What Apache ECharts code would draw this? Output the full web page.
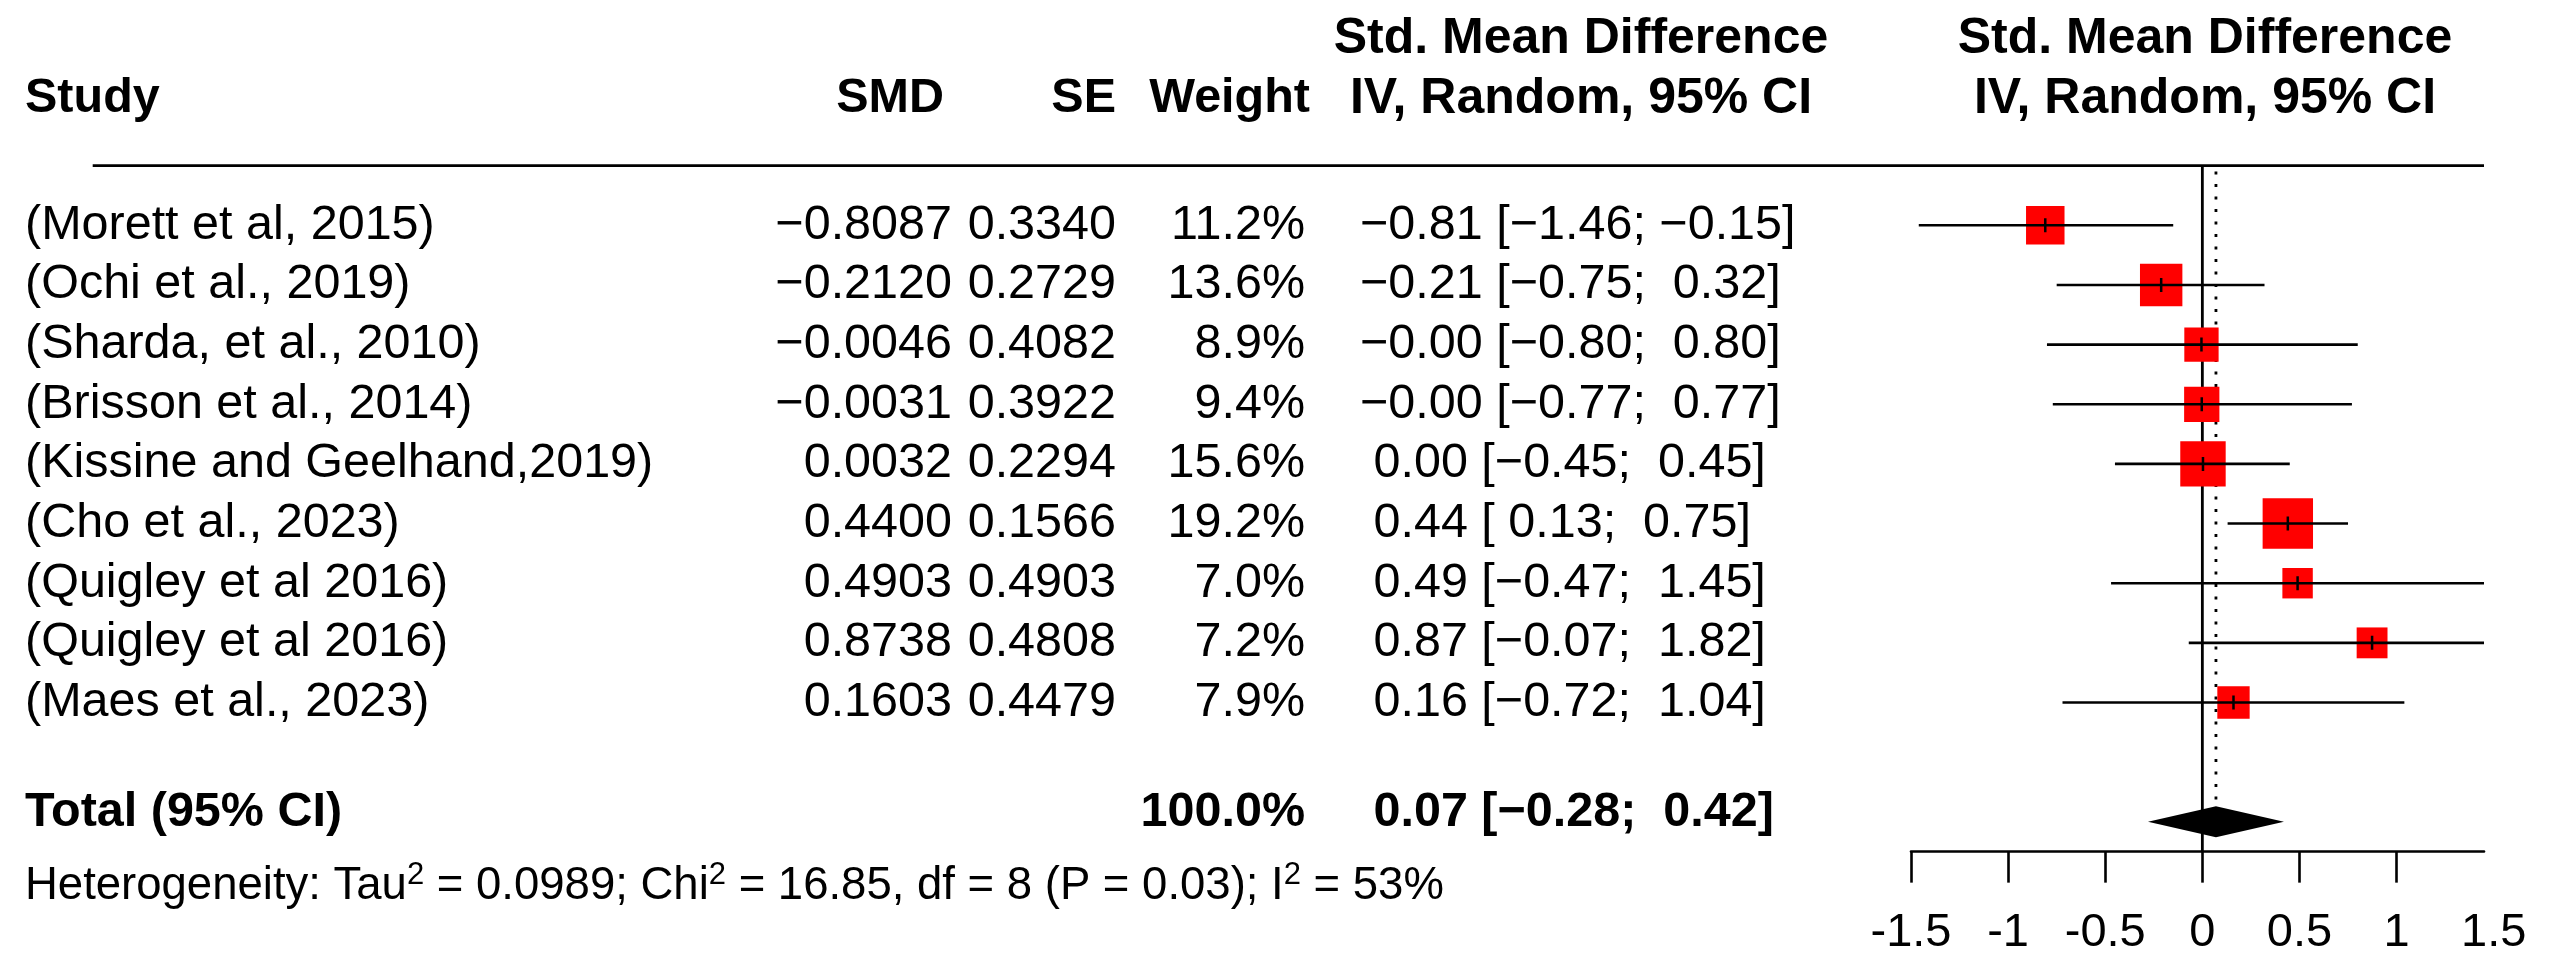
<!DOCTYPE html>
<html><head><meta charset="utf-8">
<script src="https://cdn.jsdelivr.net/npm/echarts@6/dist/echarts.min.js"></script>
<style>html,body{margin:0;padding:0;background:#fff}#c{width:2549px;height:974px}</style>
</head><body><div id="c"></div>
<script>
// ---------------- data ----------------
const studies = ['(Morett et al, 2015)', '(Ochi et al., 2019)', '(Sharda, et al., 2010)', '(Brisson et al., 2014)',
  '(Kissine and Geelhand,2019)', '(Cho et al., 2023)', '(Quigley et al 2016)', '(Quigley et al 2016)', '(Maes et al., 2023)'];
const smd = [-0.8087, -0.2120, -0.0046, -0.0031, 0.0032, 0.4400, 0.4903, 0.8738, 0.1603];
const se = [0.3340, 0.2729, 0.4082, 0.3922, 0.2294, 0.1566, 0.4903, 0.4808, 0.4479];
const weight = [11.2, 13.6, 8.9, 9.4, 15.6, 19.2, 7.0, 7.2, 7.9];
const ciLower = [-1.46, -0.75, -0.80, -0.77, -0.45, 0.13, -0.47, -0.07, -0.72];
const ciUpper = [-0.15, 0.32, 0.80, 0.77, 0.45, 0.75, 1.45, 1.82, 1.04];
const pooledEst = 0.07, pooledLower = -0.28, pooledUpper = 0.42, pooledWeight = 100.0;
const tau2 = 0.0989, chi2 = 16.85, hetDf = 8, hetP = 0.03, i2 = 53;
const tickValues = [-1.5, -1, -0.5, 0, 0.5, 1];
const tickLabelValues = [-1.5, -1, -0.5, 0, 0.5, 1, 1.5];
const headerStudy = 'Study', headerSmd = 'SMD', headerSe = 'SE', headerWeight = 'Weight';
const headerCi = ['Std. Mean Difference', 'IV, Random, 95% CI'];
const totalLabel = 'Total (95% CI)';

// ---------------- layout / style ----------------
const FF = '"Liberation Sans", Arial, Helvetica, sans-serif';
const FS = 48.5, FSB = 48.5, FSHD = 50, FSH = 45.5, FSAX = 47;
const GRID_TOP = 165.65, GRID_H = 686;
const PLOT_L = 1911, PLOT_W = 573, UNIT = PLOT_W / 2.95;
const COL = {study: 25, smdR: 952, smdHR: 944, seR: 1116, seHR: 1116, wR: 1305, wHR: 1310, ciL: 1360, ciHdr: 1581, plotHdr: 2205, ruleL: 92.7, ruleR: 2484};
const ROW_TOTAL = 10, ROW_TOTAL_TXT = 9.85, ROW_HET = 11.08, HDR1 = -3.12, HDR2 = -2.12;

const MINUS = '\u2212';
const fmtSigned = (v, d) => (v < 0 ? MINUS : '') + Math.abs(v).toFixed(d);
const pad2 = v => (v < 0 ? MINUS : ' ') + Math.abs(v).toFixed(2);
const ciText = (e, l, u) => pad2(e) + ' [' + pad2(l) + '; ' + pad2(u) + ']';

function textSeries(items, align, size, bold) {
  return {
    type: 'custom', xAxisIndex: 0, yAxisIndex: 0, silent: true, clip: false, z: 5,
    data: items.map(d => [d[0], d[1]]),
    renderItem: (p, api) => {
      const d = items[p.dataIndex];
      const c = api.coord([d[0], d[1]]);
      const style = {text: d[2], fill: '#000', align: align, verticalAlign: 'middle',
        fontSize: size, fontFamily: FF, fontWeight: bold ? 'bold' : 'normal'};
      if (d[3]) style.rich = d[3];
      return {type: 'text', x: c[0], y: c[1], style: style};
    }
  };
}

const rows = studies.map((_, i) => i);
const series = [];

// header texts
series.push(textSeries([[COL.study, HDR2, headerStudy]], 'left', FSB, true));
series.push(textSeries([[COL.smdHR, HDR2, headerSmd], [COL.seHR, HDR2, headerSe], [COL.wHR, HDR2, headerWeight]], 'right', FSB, true));
series.push(textSeries([[COL.ciHdr, HDR1, headerCi[0]], [COL.ciHdr, HDR2, headerCi[1]],
  [COL.plotHdr, HDR1, headerCi[0]], [COL.plotHdr, HDR2, headerCi[1]]], 'center', FSHD, true));

// study rows
series.push(textSeries(rows.map(i => [COL.study, i, studies[i]]), 'left', FS, false));
series.push(textSeries(rows.map(i => [COL.smdR, i, fmtSigned(smd[i], 4)]), 'right', FS, false));
series.push(textSeries(rows.map(i => [COL.seR, i, se[i].toFixed(4)]), 'right', FS, false));
series.push(textSeries(rows.map(i => [COL.wR, i, weight[i].toFixed(1) + '%']), 'right', FS, false));
series.push(textSeries(rows.map(i => [COL.ciL, i, ciText(smd[i], ciLower[i], ciUpper[i])]), 'left', FS, false));

// total row
series.push(textSeries([[COL.study, ROW_TOTAL_TXT, totalLabel]], 'left', FSB, true));
series.push(textSeries([[COL.wR, ROW_TOTAL_TXT, pooledWeight.toFixed(1) + '%']], 'right', FSB, true));
series.push(textSeries([[COL.ciL, ROW_TOTAL_TXT, ciText(pooledEst, pooledLower, pooledUpper)]], 'left', FSB, true));

// heterogeneity
const hetRich = {
  n: {fontSize: FSH, lineHeight: 52, fontFamily: FF, fill: '#000'},
  s: {fontSize: 31, lineHeight: 28, fontFamily: FF, fill: '#000', verticalAlign: 'top'}
};
const hetStr = '{n|Heterogeneity: Tau}{s|2}{n| = ' + tau2.toFixed(4) + '; Chi}{s|2}{n| = ' + chi2.toFixed(2) +
  ', df = ' + hetDf + ' (P = ' + hetP.toFixed(2) + '); I}{s|2}{n| = ' + i2 + '%}';
series.push(textSeries([[COL.study, ROW_HET, hetStr, hetRich]], 'left', FSH, false));

// top rule
series.push({type: 'line', xAxisIndex: 0, yAxisIndex: 0, silent: true, clip: false, symbol: 'none',
  data: [[COL.ruleL, -1], [COL.ruleR, -1]], lineStyle: {color: '#000', width: 2.6}});

// zero line
series.push({type: 'line', xAxisIndex: 1, yAxisIndex: 1, silent: true, clip: false, symbol: 'none',
  data: [[0, -1], [0, 10.5]], lineStyle: {color: '#000', width: 2.8}, z: 2});
// pooled dotted line
series.push({type: 'line', xAxisIndex: 1, yAxisIndex: 1, silent: true, clip: false, symbol: 'none',
  data: [[pooledEst, -0.9], [pooledEst, 9.72]], lineStyle: {color: '#000', width: 2.8, type: [2.8, 9.7]}, z: 2});

// squares
series.push({type: 'scatter', xAxisIndex: 1, yAxisIndex: 1, silent: true, clip: false, symbol: 'rect',
  symbolSize: (v, p) => 11.5 * Math.sqrt(weight[p.dataIndex]),
  data: rows.map(i => [smd[i], i]), itemStyle: {color: '#ff0000', opacity: 1}, z: 3});

// CI lines + centre ticks
series.push({type: 'custom', xAxisIndex: 1, yAxisIndex: 1, silent: true, clip: true, z: 4,
  encode: {x: [0, 2, 3], y: 1},
  data: rows.map(i => [smd[i], i, ciLower[i], ciUpper[i]]),
  renderItem: (p, api) => {
    const y = api.value(1);
    const a = api.coord([api.value(2), y]);
    const b = api.coord([api.value(3), y]);
    const c = api.coord([api.value(0), y]);
    return {type: 'group', children: [
      {type: 'line', shape: {x1: a[0], y1: a[1], x2: b[0], y2: b[1]}, style: {stroke: '#000', lineWidth: 2.6}},
      {type: 'line', shape: {x1: c[0], y1: c[1] - 7, x2: c[0], y2: c[1] + 7}, style: {stroke: '#000', lineWidth: 2.5}}
    ]};
  }});

// diamond
series.push({type: 'custom', xAxisIndex: 1, yAxisIndex: 1, silent: true, clip: false, z: 4,
  encode: {x: [0, 1, 2], y: 3},
  data: [[pooledEst, pooledLower, pooledUpper, ROW_TOTAL]],
  renderItem: (p, api) => {
    const y = api.value(3);
    const l = api.coord([api.value(1), y]);
    const r = api.coord([api.value(2), y]);
    const c = api.coord([api.value(0), y]);
    const h = api.size([0, 0.26])[1];
    return {type: 'polygon', shape: {points: [[l[0], l[1]], [c[0], c[1] - h], [r[0], r[1]], [c[0], c[1] + h]]},
      style: {fill: '#000'}};
  }});

const yAx = g => ({gridIndex: g, type: 'value', min: -1, max: 10.5, inverse: true, show: false});

const option = {
  animation: false,
  backgroundColor: '#fff',
  grid: [
    {left: 0, top: GRID_TOP, width: 2549, height: GRID_H, outerBoundsMode: 'none'},
    {left: PLOT_L, top: GRID_TOP, width: PLOT_W, height: GRID_H, outerBoundsMode: 'none'},
    {left: PLOT_L, top: GRID_TOP, width: UNIT * 3, height: GRID_H, outerBoundsMode: 'none'}
  ],
  xAxis: [
    {gridIndex: 0, type: 'value', min: 0, max: 2549, show: false},
    {gridIndex: 1, type: 'value', min: -1.5, max: 1.45, interval: 0.5, position: 'bottom',
      axisLine: {show: true, onZero: false, lineStyle: {color: '#000', width: 2.6}},
      axisTick: {show: true, inside: false, length: 31, customValues: tickValues, lineStyle: {color: '#000', width: 2.6}},
      axisLabel: {show: false}, splitLine: {show: false}},
    {gridIndex: 2, type: 'value', min: -1.5, max: 1.5, interval: 0.5, position: 'bottom',
      axisLine: {show: false}, axisTick: {show: false}, splitLine: {show: false},
      axisLabel: {show: true, customValues: tickLabelValues, showMinLabel: true, showMaxLabel: true,
        fontSize: FSAX, fontFamily: FF, color: '#000', margin: 58}}
  ],
  yAxis: [yAx(0), yAx(1), yAx(2)],
  series: series
};

echarts.init(document.getElementById('c'), null, {renderer: 'canvas'}).setOption(option);
</script>
</body></html>
